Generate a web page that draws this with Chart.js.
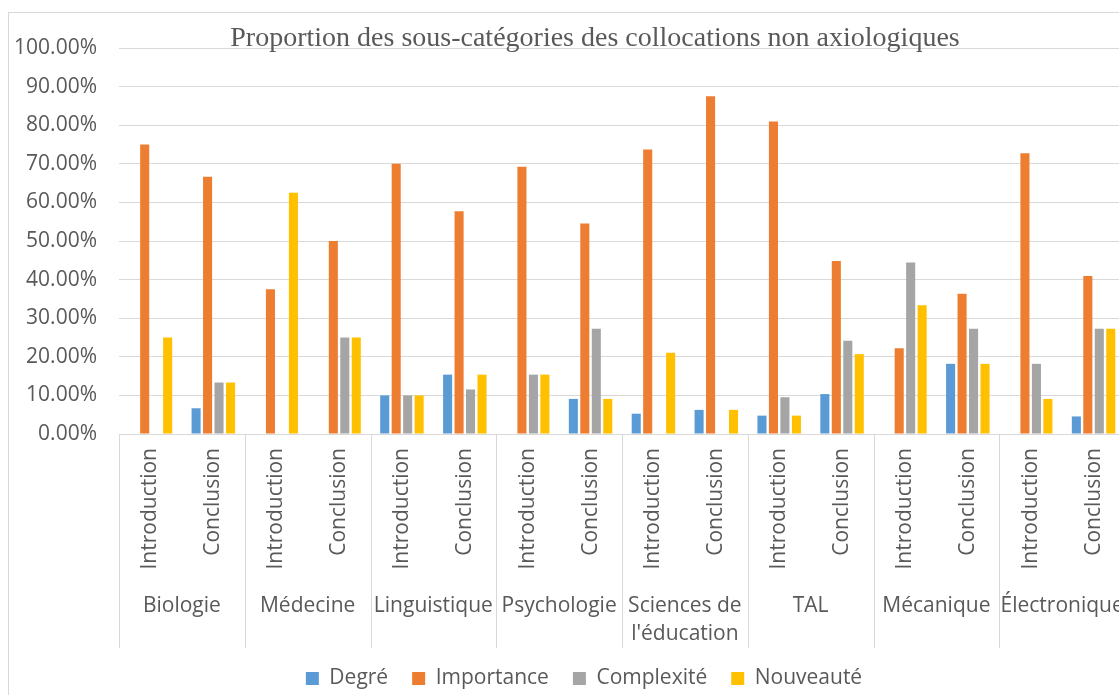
<!DOCTYPE html>
<html>
<head>
<meta charset="utf-8">
<script src="https://cdn.jsdelivr.net/npm/chart.js@4.4.1/dist/chart.umd.min.js"></script>
<style>
    html, body { margin: 0; padding: 0; background: #fff; overflow: hidden; }
</style>
</head>
<body>
<canvas id="chart" width="1168" height="699"></canvas>
<script>
// Data (shares, 0..1)
const disciplines = ['Biologie', 'Médecine', 'Linguistique', 'Psychologie', ['Sciences de', "l'éducation"], 'TAL', 'Mécanique', 'Électronique'];
const sections = ['Introduction', 'Conclusion'];
const seriesNames = ['Degré', 'Importance', 'Complexité', 'Nouveauté'];
const seriesColors = ['#5B9BD5', '#ED7D31', '#A5A5A5', '#FFC000'];

const degre      = [0, 0.0667, 0, 0, 0.10, 0.1538, 0, 0.0909, 0.0526, 0.0625, 0.0476, 0.1034, 0, 0.1818, 0, 0.0455];
const importance = [0.75, 0.6667, 0.375, 0.50, 0.70, 0.5769, 0.6923, 0.5455, 0.7368, 0.875, 0.8095, 0.4483, 0.2222, 0.3636, 0.7273, 0.4091];
const complexite = [0, 0.1333, 0, 0.25, 0.10, 0.1154, 0.1538, 0.2727, 0, 0, 0.0952, 0.2414, 0.4444, 0.2727, 0.1818, 0.2727];
const nouveaute  = [0.25, 0.1333, 0.625, 0.25, 0.10, 0.1538, 0.1538, 0.0909, 0.2105, 0.0625, 0.0476, 0.2069, 0.3333, 0.1818, 0.0909, 0.2727];

const TITLE = 'Proportion des sous-catégories des collocations non axiologiques';
const TEXT = '#595959';
const LINE = '#D9D9D9';
const FONT = 'Open Sans';
const FSIZE = 21;

// one label per bar cluster: Introduction / Conclusion for each discipline
const labels = [];
disciplines.forEach(() => sections.forEach(s => labels.push(s)));

const values = [degre, importance, complexite, nouveaute];
const datasets = seriesNames.map((name, i) => ({
    label: name,
    data: values[i],
    backgroundColor: seriesColors[i],
    borderWidth: 0,
    categoryPercentage: 0.73,
    barPercentage: 0.79
}));

// frame, title, discipline row and its separators
const excelDecor = {
    id: 'excelDecor',
    beforeDraw(chart) {
        const ctx = chart.ctx;
        ctx.save();
        ctx.strokeStyle = LINE;
        ctx.lineWidth = 1;
        ctx.strokeRect(8.5, 12.5, chart.width - 17, chart.height + 20);
        ctx.restore();
    },
    afterDraw(chart) {
        const ctx = chart.ctx;
        const area = chart.chartArea;
        const x = chart.scales.x;
        ctx.save();

        // separators between disciplines
        ctx.strokeStyle = LINE;
        ctx.lineWidth = 1;
        for (let g = 0; g <= disciplines.length; g++) {
            let px;
            if (g === 0) px = area.left;
            else if (g === disciplines.length) px = area.right;
            else px = (x.getPixelForTick(2 * g - 1) + x.getPixelForTick(2 * g)) / 2;
            px = Math.round(px) + 0.5;
            ctx.beginPath();
            ctx.moveTo(px, area.bottom);
            ctx.lineTo(px, 648);
            ctx.stroke();
        }

        // discipline names
        ctx.fillStyle = TEXT;
        ctx.font = `${FSIZE}px "${FONT}"`;
        ctx.textAlign = 'center';
        ctx.textBaseline = 'middle';
        disciplines.forEach((d, g) => {
            const cx = (x.getPixelForTick(2 * g) + x.getPixelForTick(2 * g + 1)) / 2;
            const lines = Array.isArray(d) ? d : [d];
            lines.forEach((t, k) => ctx.fillText(t, cx, 606 + k * 28));
        });

        // title sits over the plot like in Excel
        ctx.font = '28px "Liberation Serif"';
        ctx.textBaseline = 'alphabetic';
        ctx.fillText(TITLE, 595, 46);
        ctx.restore();
    }
};

new Chart(document.getElementById('chart'), {
    type: 'bar',
    data: { labels: labels, datasets: datasets },
    plugins: [excelDecor],
    options: {
        responsive: false,
        animation: false,
        layout: { padding: { top: 48, left: 0, right: 0, bottom: 0 } },
        plugins: {
            title: { display: false },
            tooltip: { enabled: false },
            legend: {
                position: 'bottom',
                labels: {
                    boxWidth: 13,
                    boxHeight: 13,
                    padding: 24,
                    color: TEXT,
                    font: { family: FONT, size: FSIZE }
                }
            }
        },
        scales: {
            x: {
                grid: { display: false, drawTicks: false },
                border: { color: LINE },
                ticks: {
                    autoSkip: false,
                    minRotation: 90,
                    maxRotation: 90,
                    padding: 14,
                    color: TEXT,
                    font: { family: FONT, size: FSIZE }
                },
                afterFit: s => { s.height = 210; }
            },
            y: {
                min: 0,
                max: 1,
                grid: { color: LINE, drawTicks: false },
                border: { display: false },
                ticks: {
                    stepSize: 0.1,
                    padding: 22,
                    color: TEXT,
                    font: { family: FONT, size: FSIZE },
                    callback: v => (v * 100).toFixed(2) + '%'
                },
                afterFit: s => { s.width = 119; }
            },
            // empty box on the right so the plot ends where the reference does
            pad: {
                position: 'right',
                grid: { display: false },
                border: { display: false },
                ticks: { display: false },
                afterFit: s => { s.width = 43; }
            }
        }
    }
});
</script>
</body>
</html>
